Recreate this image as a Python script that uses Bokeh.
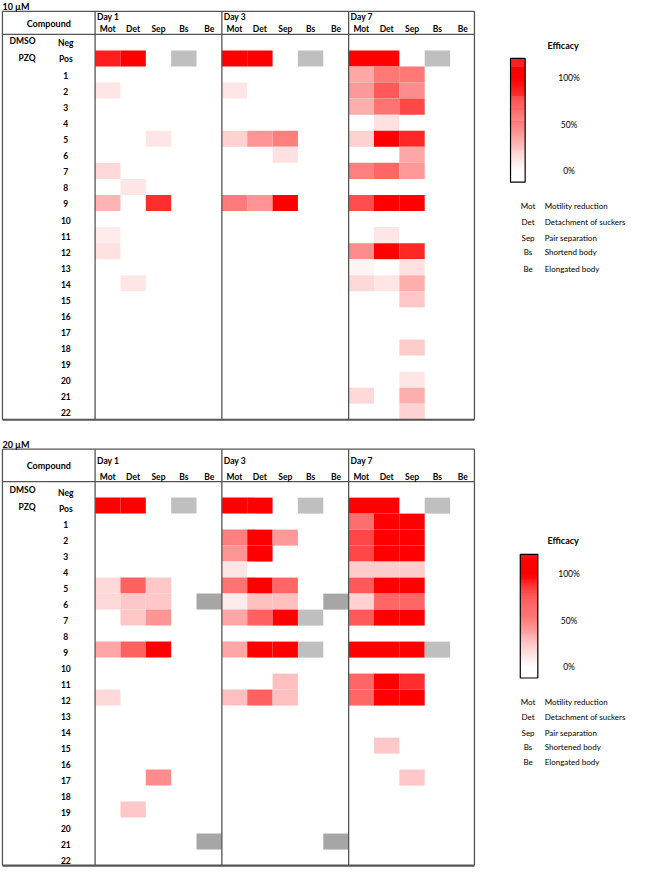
import numpy as np
from bokeh.plotting import figure
from bokeh.models import ColumnDataSource, Range1d, LinearColorMapper
from bokeh.core.properties import value
from bokeh.embed import file_html
from bokeh.resources import INLINE

# ---------------- data ----------------
ROWS = ["Neg", "Pos"] + [str(i) for i in range(1, 23)]
ROW_GROUP = {"Neg": "DMSO", "Pos": "PZQ"}
DAYS = ["Day 1", "Day 3", "Day 7"]
MEASURES = ["Mot", "Det", "Sep", "Bs", "Be"]
MEASURE_NAMES_10 = ["Motility reduction", "Detachment of suckers", "Pair separation",
                    "Shortend body", "Elongated body"]
MEASURE_NAMES_20 = ["Motility reduction", "Detachment of suckers", "Pair separation",
                    "Shortened body", "Elongated body"]
EFF_TICKS = [100, 50, 0]
EFF_LABELS = ["100%", "50%", "0%"]

# 10 µM  (order: Neg, Pos, 1..22) efficacy in %
c10_d1_mot = [0, 88, 0, 10, 0, 0, 0, 0, 15, 0, 30, 0, 8, 12, 0, 0, 0, 0, 0, 0, 0, 0, 0, 0]
c10_d1_det = [0, 100, 0, 0, 0, 0, 0, 0, 0, 10, 0, 0, 0, 0, 0, 10, 0, 0, 0, 0, 0, 0, 0, 0]
c10_d1_sep = [0, 0, 0, 0, 0, 0, 10, 0, 0, 0, 82, 0, 0, 0, 0, 0, 0, 0, 0, 0, 0, 0, 0, 0]
c10_d3_mot = [0, 100, 0, 10, 0, 0, 18, 0, 0, 0, 52, 0, 0, 0, 0, 0, 0, 0, 0, 0, 0, 0, 0, 0]
c10_d3_det = [0, 100, 0, 0, 0, 0, 42, 0, 0, 0, 42, 0, 0, 0, 0, 0, 0, 0, 0, 0, 0, 0, 0, 0]
c10_d3_sep = [0, 0, 0, 0, 0, 0, 50, 12, 0, 0, 100, 0, 0, 0, 0, 0, 0, 0, 0, 0, 0, 0, 0, 0]
c10_d7_mot = [0, 100, 35, 40, 32, 0, 18, 0, 50, 0, 70, 0, 0, 45, 5, 15, 0, 0, 0, 0, 0, 0, 15, 0]
c10_d7_det = [0, 100, 53, 65, 55, 12, 100, 0, 60, 0, 100, 0, 10, 100, 0, 10, 0, 0, 0, 0, 0, 0, 0, 0]
c10_d7_sep = [0, 0, 53, 45, 72, 0, 85, 35, 40, 0, 100, 0, 0, 85, 12, 32, 22, 0, 0, 20, 0, 10, 32, 18]
c10_bs_d1 = ["Pos"]
c10_bs_d3 = ["Pos"]
c10_bs_d7 = ["Pos"]
c10_be_d1 = []
c10_be_d3 = []
c10_be_d7 = []

# 20 µM
c20_d1_mot = [0, 100, 0, 0, 0, 0, 15, 15, 0, 0, 35, 0, 0, 15, 0, 0, 0, 0, 0, 0, 0, 0, 0, 0]
c20_d1_det = [0, 100, 0, 0, 0, 0, 62, 22, 22, 0, 62, 0, 0, 0, 0, 0, 0, 0, 0, 0, 22, 0, 0, 0]
c20_d1_sep = [0, 0, 0, 0, 0, 0, 22, 22, 42, 0, 100, 0, 0, 0, 0, 0, 0, 0, 45, 0, 0, 0, 0, 0]
c20_d3_mot = [0, 100, 0, 50, 42, 10, 55, 8, 35, 0, 35, 0, 0, 25, 0, 0, 0, 0, 0, 0, 0, 0, 0, 0]
c20_d3_det = [0, 100, 0, 100, 100, 0, 100, 25, 62, 0, 100, 0, 0, 62, 0, 0, 0, 0, 0, 0, 0, 0, 0, 0]
c20_d3_sep = [0, 0, 0, 40, 0, 0, 60, 25, 100, 0, 100, 0, 25, 25, 0, 0, 0, 0, 0, 0, 0, 0, 0, 0]
c20_d7_mot = [0, 100, 57, 72, 72, 20, 65, 18, 65, 0, 100, 0, 60, 60, 0, 0, 0, 0, 0, 0, 0, 0, 0, 0]
c20_d7_det = [0, 100, 100, 100, 100, 20, 100, 60, 100, 0, 100, 0, 100, 100, 0, 0, 22, 0, 0, 0, 0, 0, 0, 0]
c20_d7_sep = [0, 0, 100, 100, 100, 20, 100, 60, 100, 0, 100, 0, 82, 100, 0, 0, 0, 0, 22, 0, 0, 0, 0, 0]
c20_bs_d1 = ["Pos"]
c20_bs_d3 = ["Pos", "7", "9"]
c20_bs_d7 = ["Pos", "9"]
c20_be_d1 = ["6", "21"]
c20_be_d3 = ["6", "21"]
c20_be_d7 = []

# ---------------- layout (reference pixel space) ----------------
FONT = value("Lato")
LINE_COL = "#555555"
X_LEFT, X_COMP, X_RIGHT = 2, 97, 486
X_DAYS = [97, 227, 357]
CW = 26

panels = [
    dict(title="10 µM", title_y=5, top=10, hdr=33.5, bottom=426, day_y=16, meas_y=28.5,
         comp_y=22, lab_dy=1,
         vals=[[c10_d1_mot, c10_d1_det, c10_d1_sep], [c10_d3_mot, c10_d3_det, c10_d3_sep],
               [c10_d7_mot, c10_d7_det, c10_d7_sep]],
         bs=[c10_bs_d1, c10_bs_d3, c10_bs_d7], be=[c10_be_d1, c10_be_d3, c10_be_d7],
         eff_y=45, bar=(523, 538, 58, 184), leg_y=[208, 225, 241, 255, 272], names=MEASURE_NAMES_10),
    dict(title="20 µM", title_y=451, top=456, hdr=489, bottom=880, day_y=468, meas_y=484,
         comp_y=473, lab_dy=3,
         vals=[[c20_d1_mot, c20_d1_det, c20_d1_sep], [c20_d3_mot, c20_d3_det, c20_d3_sep],
               [c20_d7_mot, c20_d7_det, c20_d7_sep]],
         bs=[c20_bs_d1, c20_bs_d3, c20_bs_d7], be=[c20_be_d1, c20_be_d3, c20_be_d7],
         eff_y=549, bar=(533, 551, 563, 689), leg_y=[713, 729, 745, 759, 775], names=MEASURE_NAMES_20),
]

palette = ["#ff%02x%02x" % (int(round(255 * (1 - t))), int(round(255 * (1 - t))))
           for t in np.linspace(0, 1, 256)]
mapper = LinearColorMapper(palette=palette, low=0, high=100)

p = figure(width=629, height=867, x_range=Range1d(0, 645), y_range=Range1d(882, -1),
           output_backend="svg", toolbar_location=None, x_axis_type=None, y_axis_type=None,
           min_border=0, outline_line_color=None)
p.grid.visible = False


def txt(xs, ys, texts, size="8.5px", bold=False, align="center", color="black"):
    p.text(x=xs, y=ys, text=texts, text_font=FONT, text_font_size=size,
           text_font_style="bold" if bold else "normal", text_align=align,
           text_baseline="middle", text_color=color)


for P in panels:
    rh = (P["bottom"] - P["hdr"]) / len(ROWS)
    row_y = {r: P["hdr"] + (i + 0.5) * rh for i, r in enumerate(ROWS)}

    # efficacy cells
    cx, cy, cv = [], [], []
    for d, day_vals in enumerate(P["vals"]):
        for m, col in enumerate(day_vals):
            for r, v in zip(ROWS, col):
                if v > 0:
                    cx.append(X_DAYS[d] + (m + 0.5) * CW)
                    cy.append(row_y[r])
                    cv.append(v)
    src = ColumnDataSource(dict(x=cx, y=cy, v=cv))
    p.rect(x="x", y="y", width=CW, height=rh, source=src,
           fill_color={"field": "v", "transform": mapper}, line_color=None)

    # shape change cells (grey)
    gx, gy, gc = [], [], []
    for d in range(3):
        for r in P["bs"][d]:
            gx.append(X_DAYS[d] + 3.5 * CW); gy.append(row_y[r]); gc.append("#bfbfbf")
        for r in P["be"][d]:
            gx.append(X_DAYS[d] + 4.5 * CW); gy.append(row_y[r]); gc.append("#a6a6a6")
    p.rect(x=gx, y=gy, width=CW, height=rh, fill_color=gc, line_color=None)

    # table lines
    p.segment(x0=[X_LEFT, X_LEFT, X_LEFT, X_RIGHT] + [X_COMP] + X_DAYS[1:],
              y0=[P["top"], P["hdr"], P["top"], P["top"]] + [P["top"]] * 3,
              x1=[X_RIGHT, X_RIGHT, X_LEFT, X_RIGHT] + [X_COMP] + X_DAYS[1:],
              y1=[P["top"], P["hdr"], P["bottom"], P["bottom"]] + [P["bottom"]] * 3,
              line_color=LINE_COL, line_width=1.3)
    p.segment(x0=[X_LEFT], y0=[P["bottom"]], x1=[X_RIGHT], y1=[P["bottom"]],
              line_color=LINE_COL, line_width=2.2)

    # texts
    txt([2], [P["title_y"]], [P["title"]], size="9px", bold=True, align="left")
    txt([(X_LEFT + X_COMP) / 2], [P["comp_y"]], ["Compound"], size="9px", bold=True)
    txt([x + 2 for x in X_DAYS], [P["day_y"]] * 3, DAYS, size="8.5px", bold=True, align="left")
    mx, my, mt = [], [], []
    for x0 in X_DAYS:
        for m, name in enumerate(MEASURES):
            mx.append(x0 + (m + 0.5) * CW); my.append(P["meas_y"]); mt.append(name)
    txt(mx, my, mt, size="8.5px", bold=True)
    txt([67] * len(ROWS), [row_y[r] + P["lab_dy"] for r in ROWS], ROWS, size="8.5px", bold=True)
    txt([36, 36], [row_y["Neg"] + P["lab_dy"] - 2.5, row_y["Pos"] + P["lab_dy"] - 1.5],
        [ROW_GROUP["Neg"], ROW_GROUP["Pos"]], size="8.5px", bold=True, align="right")

    # colour bar
    bx0, bx1, by0, by1 = P["bar"]
    ys = np.linspace(by0, by1, 127)
    segs_y = (ys[:-1] + ys[1:]) / 2
    zero_y, full_y = by1 - 11, by1 - 11 - 95 * (by1 - by0) / 126
    gv = np.clip((zero_y - segs_y) / (zero_y - full_y) * 100, 0, 100)
    bar_src = ColumnDataSource(dict(x=[(bx0 + bx1) / 2] * len(segs_y), y=list(segs_y), v=list(gv)))
    p.rect(x="x", y="y", width=bx1 - bx0, height=(by1 - by0) / 126 + 0.3,
           fill_color={"field": "v", "transform": mapper}, line_color=None, source=bar_src)
    p.quad(left=[bx0], right=[bx1], top=[by0], bottom=[by1], fill_color=None,
           line_color="black", line_width=1.2)
    txt([577], [P["eff_y"]], ["Efficacy"], size="9px", bold=True)
    txt([583] * 3, [zero_y - t / 100 * (zero_y - full_y) for t in EFF_TICKS], EFF_LABELS,
        size="8.5px")
    txt([541] * 5, P["leg_y"], MEASURES, size="8px")
    txt([558] * 5, P["leg_y"], P["names"], size="8px", align="left")

open("out.html", "w").write(file_html(p, INLINE))
